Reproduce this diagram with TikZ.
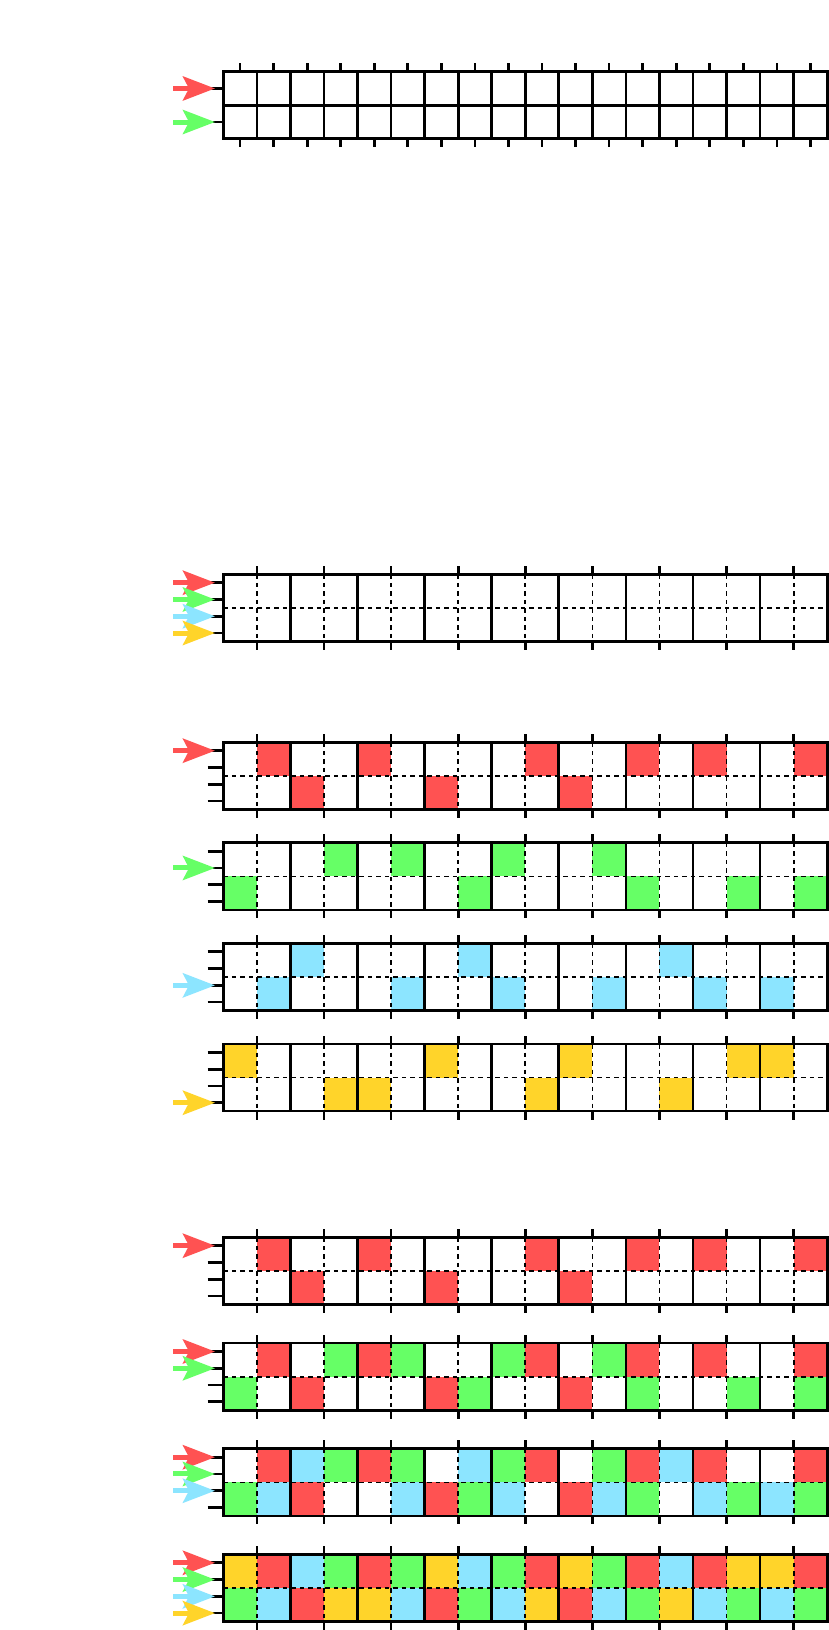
\documentclass[tikz,border=0pt]{standalone}
\usetikzlibrary{arrows.meta}
\definecolor{cR}{RGB}{255,82,82}
\definecolor{cG}{RGB}{102,255,102}
\definecolor{cB}{RGB}{140,229,255}
\definecolor{cY}{RGB}{255,212,42}
\def\cs{33.55}
\def\xo{223.3}
\def\xe{827.2}
\tikzset{
  solidline/.style={line width=2.7pt, black, line join=miter},
  dashline/.style={line width=1.7pt, black, dash pattern=on 4.5pt off 4pt},
  tickline/.style={line width=2.7pt, black},
  arrowline/.style={line width=5pt, -{Stealth[length=32pt, width=24pt, inset=6pt]}},
}
\newcommand\mysec[1]{%
  \draw[dashline] (\xo,#1+\cs) -- (\xe,#1+\cs);
  \foreach \k in {0,...,8}{%
    \draw[dashline] (\xo+\cs+2*\k*\cs,#1) -- ++(0,2*\cs);
    \draw[tickline] (\xo+\cs+2*\k*\cs,#1) -- ++(0,-8.5);
    \draw[tickline] (\xo+\cs+2*\k*\cs,#1+2*\cs) -- ++(0,8.5);}
  \foreach \k in {1,...,8}{\draw[solidline] (\xo+2*\k*\cs,#1) -- ++(0,2*\cs);}
  \draw[solidline] (\xo,#1) rectangle (\xe,#1+2*\cs);
  \foreach \f in {0.125,0.375,0.625,0.875}{\draw[tickline] (207.7,#1+2*\cs*\f) -- (\xo,#1+2*\cs*\f);}
}
\newcommand\fillcol[4]{%
  \foreach \c in {#2}{\fill[#1] (\xo+\c*\cs,#4) rectangle ++(\cs,\cs);}
  \foreach \c in {#3}{\fill[#1] (\xo+\c*\cs,#4+\cs) rectangle ++(\cs,\cs);}}
\newcommand\fR[1]{\fillcol{cR}{1,4,9,12,14,17}{2,6,10}{#1}}
\newcommand\fG[1]{\fillcol{cG}{3,5,8,11}{0,7,12,15,17}{#1}}
\newcommand\fB[1]{\fillcol{cB}{2,7,13}{1,5,8,11,14,16}{#1}}
\newcommand\fY[1]{\fillcol{cY}{0,6,10,15,16}{3,4,9,13}{#1}}
\newcommand\arr[3]{\draw[arrowline,#1] (173.3,#2+2*\cs*#3) -- (215,#2+2*\cs*#3);}
\begin{document}
\begin{tikzpicture}[x=1pt,y=-1pt]
\useasboundingbox (0,0) rectangle (829,1630);
\fill[white] (0,0) rectangle (829,1630);
% section 0
\def\tp{71.7}
\foreach \i in {1,...,17}{\draw[solidline] (\xo+\i*\cs,\tp) -- ++(0,2*\cs);}
\draw[solidline] (\xo,\tp+\cs) -- (\xe,\tp+\cs);
\draw[solidline] (\xo,\tp) rectangle (\xe,\tp+2*\cs);
\foreach \i in {0,...,17}{%
  \draw[tickline] (\xo+\i*\cs+0.5*\cs,\tp) -- ++(0,-8.5);
  \draw[tickline] (\xo+\i*\cs+0.5*\cs,\tp+2*\cs) -- ++(0,8.5);}
\foreach \f in {0.25,0.75}{\draw[tickline] (207.7,\tp+2*\cs*\f) -- (\xo,\tp+2*\cs*\f);}
\arr{cR}{\tp}{0.25}
\arr{cG}{\tp}{0.75}
% section 1
\mysec{574.3}
\arr{cR}{574.3}{0.125}\arr{cG}{574.3}{0.375}\arr{cB}{574.3}{0.625}\arr{cY}{574.3}{0.875}
% single-colour sections
\fR{742.3}\mysec{742.3}\arr{cR}{742.3}{0.125}
\fG{842.8}\mysec{842.8}\arr{cG}{842.8}{0.375}
\fB{943.4}\mysec{943.4}\arr{cB}{943.4}{0.625}
\fY{1044}\mysec{1044}\arr{cY}{1044}{0.875}
% cumulative sections
\fR{1237.3}\mysec{1237.3}\arr{cR}{1237.3}{0.125}
\fR{1343.1}\fG{1343.1}\mysec{1343.1}\arr{cR}{1343.1}{0.125}\arr{cG}{1343.1}{0.375}
\fR{1448.8}\fG{1448.8}\fB{1448.8}\mysec{1448.8}\arr{cR}{1448.8}{0.125}\arr{cG}{1448.8}{0.375}\arr{cB}{1448.8}{0.625}
\fR{1554.4}\fG{1554.4}\fB{1554.4}\fY{1554.4}\mysec{1554.4}\arr{cR}{1554.4}{0.125}\arr{cG}{1554.4}{0.375}\arr{cB}{1554.4}{0.625}\arr{cY}{1554.4}{0.875}
\end{tikzpicture}
\end{document}
